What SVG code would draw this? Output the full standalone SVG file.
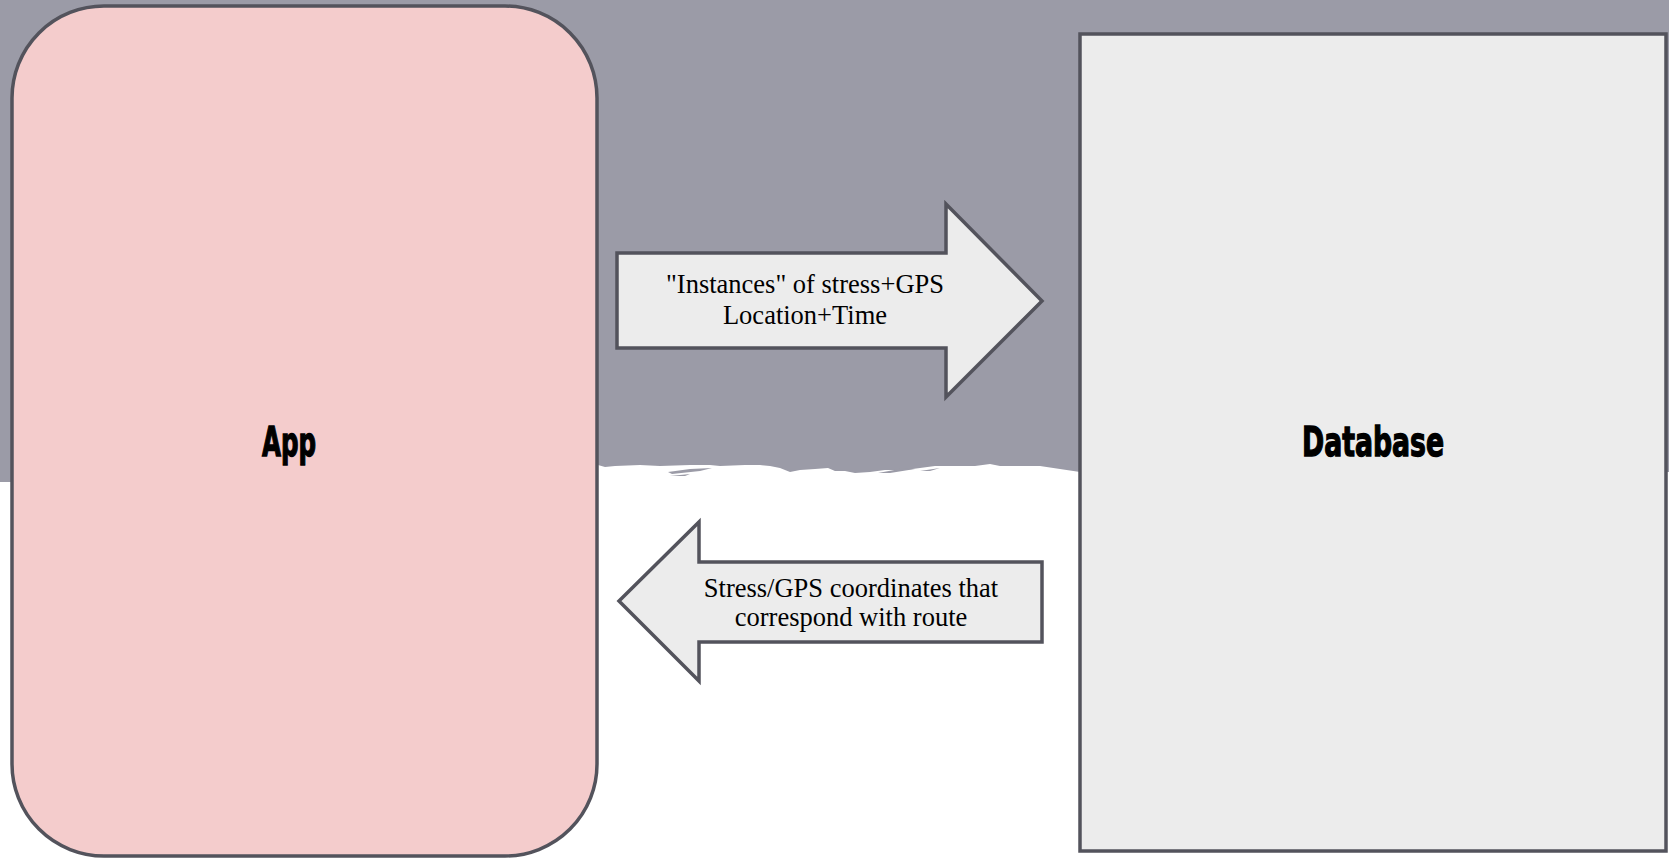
<svg xmlns="http://www.w3.org/2000/svg" width="1669" height="859" viewBox="0 0 1669 859">
  <style>
    .bg { fill: #9b9ba7; }
    .shape { stroke: #53535c; stroke-width: 3.5; stroke-linejoin: miter; }
    .title { font-family: "Liberation Sans Narrow", "DejaVu Sans Condensed", sans-serif; font-weight: bold; font-size: 41px; fill: #000; stroke: #000; stroke-width: 1.3; text-anchor: middle; }
    .label { font-family: "Liberation Serif", "Times New Roman", serif; font-size: 26.5px; fill: #000; text-anchor: middle; }
  </style>
  <rect x="0" y="0" width="1669" height="859" fill="#ffffff"/>
  <g id="background">
    <path class="bg" d="M0,0 H1669 V472 L1080,472 L1060,469 L1040,466 L1000,466 L990,464 L975,466 L935,466 L920,468 L905,470 L885,470 L870,472 L855,473 L845,471 L835,471 L828,468 L815,469 L800,470 L790,472 L780,468 L770,466 L760,465 L745,465 L720,466 L710,465 L690,465 L660,466 L640,465 L615,466 L605,467 L598,465 L14,465 L14,482 L0,482 Z"/>
    <path class="bg" d="M668,472 L690,469 L712,468 L700,471 L672,474 Z M670,476 L690,474 L685,476 Z M878,473 L905,468 L915,469 L890,473 Z M920,471 L940,468 L930,471 Z"/>
  </g>
  <g id="node-app">
    <rect class="shape" x="12" y="6" width="585" height="850" rx="92" ry="92" fill="#f4cccc"/>
    <text class="title" x="289" y="456" textLength="54" lengthAdjust="spacingAndGlyphs">App</text>
  </g>
  <g id="node-database">
    <rect class="shape" x="1080" y="34" width="586" height="817" fill="#ececec"/>
    <text class="title" x="1373" y="456" textLength="142" lengthAdjust="spacingAndGlyphs">Database</text>
  </g>
  <g id="connectors">
    <g id="arrow-app-to-db">
      <path class="shape" fill="#ececec" d="M617,253 H946 V204 L1042,301 L946,397 V348 H617 Z"/>
      <text class="label" x="805" y="293">"Instances" of stress+GPS</text>
      <text class="label" x="805" y="324">Location+Time</text>
    </g>
    <g id="arrow-db-to-app">
      <path class="shape" fill="#ececec" d="M1042,562 H699 V522 L619,601 L699,681 V642 H1042 Z"/>
      <text class="label" x="851" y="597">Stress/GPS coordinates that</text>
      <text class="label" x="851" y="626">correspond with route</text>
    </g>
  </g>
</svg>
